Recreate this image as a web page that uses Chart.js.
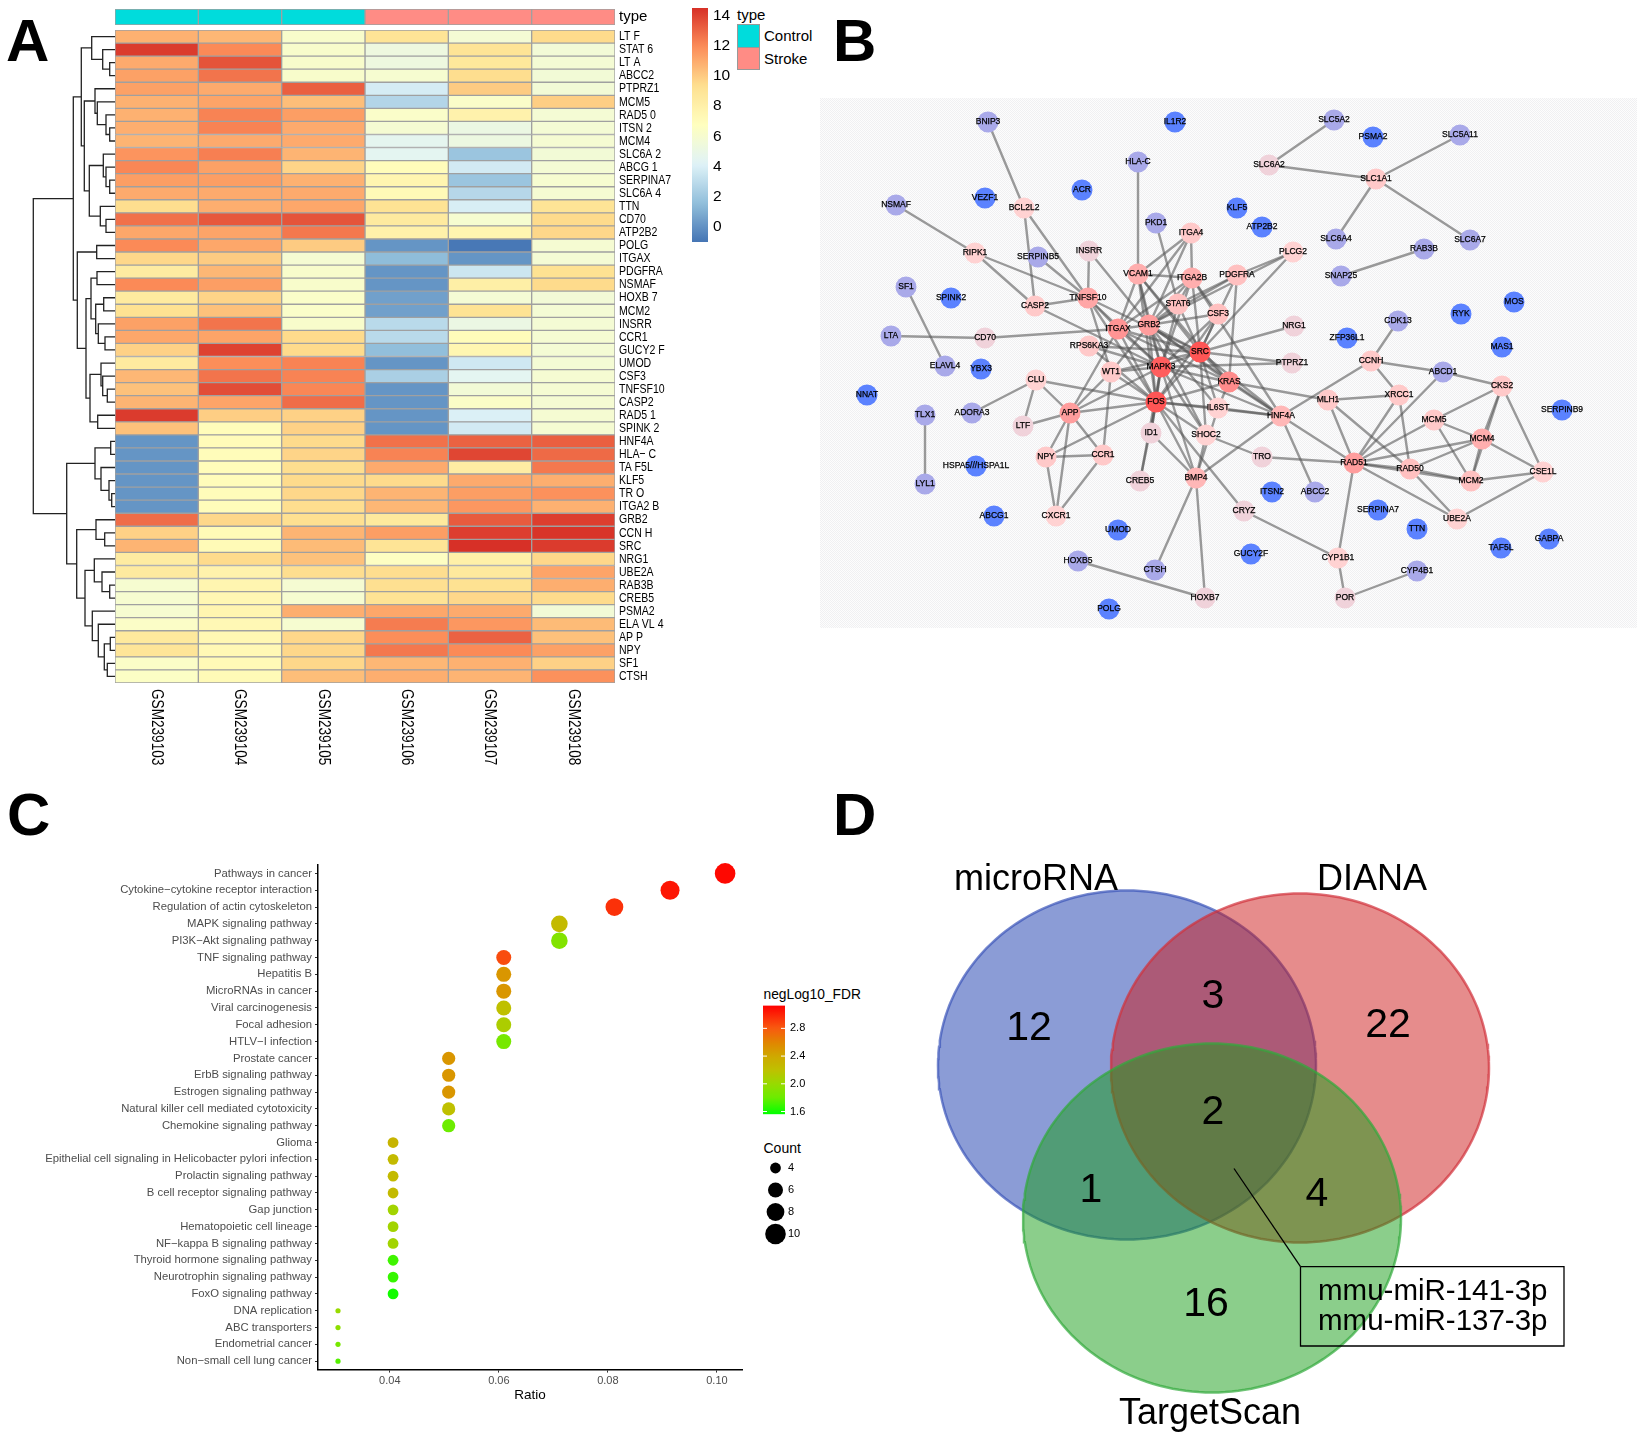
<!DOCTYPE html>
<html>
<head>
<meta charset="utf-8">
<title>Stroke figure</title>
<script src="https://cdn.jsdelivr.net/npm/chart.js@4/dist/chart.umd.js"></script>
<style>
body { margin: 0; background: #fff; width: 1645px; height: 1439px; position: relative; overflow: hidden; font-family: "Liberation Sans", Arial, sans-serif; }
canvas { position: absolute; }
.t { position: absolute; white-space: nowrap; line-height: 1; color: #000; }
.letter { font-weight: bold; font-size: 60px; }
.legend { font-size: 15px; }
.swatch { position: absolute; box-sizing: border-box; border: 1px solid #999; }
</style>
</head>
<body>
<script>
// ---------- panel A data ----------
const sampleNames = ['GSM239103', 'GSM239104', 'GSM239105', 'GSM239106', 'GSM239107', 'GSM239108'];
const sampleTypes = ['Control', 'Control', 'Control', 'Stroke', 'Stroke', 'Stroke'];
const geneLabels = ['LT F', 'STAT 6', 'LT A', 'ABCC2', 'PTPRZ1', 'MCM5', 'RAD5 0', 'ITSN 2', 'MCM4', 'SLC6A 2',
  'ABCG 1', 'SERPINA7', 'SLC6A 4', 'TTN', 'CD70', 'ATP2B2', 'POLG', 'ITGAX', 'PDGFRA', 'NSMAF',
  'HOXB 7', 'MCM2', 'INSRR', 'CCR1', 'GUCY2 F', 'UMOD', 'CSF3', 'TNFSF10', 'CASP2', 'RAD5 1',
  'SPINK 2', 'HNF4A', 'HLA\u2212 C', 'TA F5L', 'KLF5', 'TR O', 'ITGA2 B', 'GRB2', 'CCN H', 'SRC',
  'NRG1', 'UBE2A', 'RAB3B', 'CREB5', 'PSMA2', 'ELA VL 4', 'AP P', 'NPY', 'SF1', 'CTSH'];
const heatValues = [
  [10.8, 10.6, 6.2, 9.0, 5.8, 9.5], [14.2, 12.0, 6.2, 5.3, 9.0, 5.7], [11.0, 13.5, 6.2, 5.3, 8.7, 5.8],
  [11.3, 12.6, 6.2, 6.0, 9.4, 5.7], [11.3, 11.0, 13.2, 3.8, 10.0, 5.7], [10.8, 11.2, 10.4, 2.7, 6.3, 9.9],
  [10.8, 12.2, 11.4, 6.3, 7.8, 5.8], [10.9, 12.2, 11.0, 5.9, 5.1, 5.8], [10.7, 11.0, 11.0, 4.6, 5.2, 5.9],
  [11.7, 12.3, 10.7, 4.5, 1.9, 5.7], [12.1, 11.3, 9.7, 7.0, 3.7, 5.8], [11.4, 11.4, 10.8, 7.6, 1.9, 6.0],
  [11.0, 11.0, 11.0, 7.2, 2.8, 5.9], [9.4, 10.9, 11.1, 9.1, 3.9, 9.0], [12.7, 13.4, 13.5, 8.5, 6.0, 9.5],
  [11.1, 11.2, 12.5, 7.9, 7.6, 9.6], [12.0, 11.1, 10.0, 0.1, -0.9, 5.9], [9.6, 10.0, 5.9, 1.5, 0.1, 5.8],
  [8.4, 10.6, 6.2, 0.1, 3.5, 9.2], [12.0, 11.4, 6.2, 0.1, 8.1, 9.5], [8.5, 9.7, 6.3, 0.5, 5.8, 5.7],
  [9.2, 10.3, 6.3, 0.5, 9.1, 5.8], [11.3, 12.6, 6.2, 2.9, 5.1, 5.8], [11.1, 11.2, 9.5, 2.9, 7.0, 5.9],
  [9.8, 14.0, 9.5, 1.6, 7.5, 5.8], [8.5, 11.9, 12.2, 0.1, 3.6, 5.8], [10.6, 12.6, 12.2, 2.4, 4.5, 5.9],
  [10.3, 13.7, 12.1, 0.1, 5.7, 5.9], [10.7, 11.2, 12.8, 0.1, 6.4, 5.9], [14.2, 9.9, 9.8, 0.1, 4.0, 5.9],
  [10.3, 7.0, 9.8, 0.1, 3.7, 5.9], [0.1, 7.1, 9.5, 12.7, 13.1, 13.2], [0.1, 7.0, 9.7, 12.2, 13.9, 12.9],
  [0.1, 7.0, 9.4, 11.0, 8.3, 12.5], [0.1, 7.0, 9.5, 9.5, 11.0, 10.9], [0.1, 7.0, 9.6, 10.7, 11.4, 11.8],
  [0.1, 7.0, 9.4, 10.6, 11.6, 10.8], [12.8, 9.6, 9.3, 8.6, 13.3, 14.1], [9.8, 7.2, 10.7, 11.4, 14.1, 14.4],
  [10.7, 7.2, 10.5, 9.0, 14.5, 14.2], [8.4, 9.5, 10.3, 6.6, 8.0, 9.6], [8.5, 7.8, 9.4, 9.4, 8.6, 11.2],
  [6.0, 7.6, 5.9, 9.3, 9.2, 10.9], [6.0, 7.4, 6.0, 9.1, 9.6, 9.5], [6.0, 7.6, 10.9, 11.1, 11.0, 5.7],
  [6.4, 7.3, 6.0, 12.4, 11.6, 10.5], [8.6, 7.4, 9.6, 11.9, 13.1, 10.3], [8.9, 7.3, 9.6, 12.5, 12.0, 11.3],
  [6.4, 7.2, 9.6, 10.6, 10.8, 9.8], [6.5, 7.2, 10.4, 10.9, 10.7, 11.8]
];
// merge height, then two children; a plain number is a row index
const dendroTree = [81.7,
  [41.7,
    [33.7,
      [23.3, 0, [12.3, 1, [5.3, 2, 3]]],
      [30.7,
        [20, 4, [17.7, 5, [9, 6, [5.3, 7, 8]]]],
        [25.7,
          [11.7, 9, [9, 10, [5.3, 11, 12]]],
          [14.7, 13, [9, 14, 15]]]]],
    [37.7,
      [18.3, 16, 17],
      [29,
        [24, [18, 18, 19], [19.3, [11.3, 20, 21], [16.7, 22, [10, 23, 24]]]],
        [25, [14, 25, [12.3, 26, [7.7, 27, 28]]], [17.3, 29, 30]]]]],
  [48.3,
    [20, [4.3, 31, 32], [14, 33, [6, 34, [3.3, 35, 36]]]],
    [38.3,
      [19, 37, [10.3, 38, 39]],
      [30,
        [20.7, 40, [13, 41, [5.3, 42, 43]]],
        [22.7, 44, [16.7, 45, [10.7, [4.7, 46, 47], [7.7, 48, 49]]]]]]]
];
const heatTicks = [0, 2, 4, 6, 8, 10, 12, 14];
const typeNames = ['Control', 'Stroke'];

// ---------- panel B data ----------
const nodeNames = ['BNIP3', 'IL1R2', 'SLC5A2', 'PSMA2', 'SLC5A11', 'HLA-C', 'SLC6A2', 'SLC1A1', 'ACR', 'VEZF1',
  'NSMAF', 'BCL2L2', 'KLF5', 'ATP2B2', 'PKD1', 'ITGA4', 'SLC6A4', 'SLC6A7', 'RAB3B', 'INSRR',
  'RIPK1', 'SERPINB5', 'PLCG2', 'VCAM1', 'ITGA2B', 'PDGFRA', 'SNAP25', 'SF1', 'SPINK2', 'TNFSF10',
  'CASP2', 'STAT6', 'CSF3', 'MOS', 'RYK', 'CDK13', 'ITGAX', 'GRB2', 'NRG1', 'LTA',
  'CD70', 'ZFP36L1', 'RPS6KA3', 'MAS1', 'SRC', 'CCNH', 'PTPRZ1', 'ELAVL4', 'YBX3', 'MAPK3',
  'WT1', 'ABCD1', 'CLU', 'KRAS', 'CKS2', 'NNAT', 'MLH1', 'XRCC1', 'FOS', 'TLX1',
  'ADORA3', 'APP', 'IL6ST', 'HNF4A', 'SERPINB9', 'MCM5', 'LTF', 'ID1', 'SHOC2', 'MCM4',
  'NPY', 'CCR1', 'TRO', 'HSPA5///HSPA1L', 'RAD51', 'RAD50', 'CSE1L', 'MCM2', 'LYL1', 'CREB5',
  'BMP4', 'ITSN2', 'ABCC2', 'ABCG1', 'CXCR1', 'CRYZ', 'SERPINA7', 'UBE2A', 'TTN', 'UMOD',
  'GABPA', 'TAF5L', 'HOXB5', 'CTSH', 'GUCY2F', 'CYP1B1', 'CYP4B1', 'HOXB7', 'POR', 'POLG'];
const nodeX = [988, 1175, 1334, 1373, 1460, 1138, 1269, 1376, 1082, 985,
  896, 1024, 1237, 1262, 1156, 1191, 1336, 1470, 1424, 1089,
  975, 1038, 1293, 1138, 1192, 1237, 1341, 906, 951, 1088,
  1035, 1178, 1218, 1514, 1461, 1398, 1118, 1149, 1294, 891,
  985, 1347, 1089, 1502, 1200, 1371, 1292, 945, 981, 1161,
  1111, 1443, 1036, 1229, 1502, 867, 1328, 1399, 1156, 925,
  972, 1070, 1218, 1281, 1562, 1434, 1023, 1151, 1206, 1482,
  1046, 1103, 1262, 976, 1354, 1410, 1543, 1471, 925, 1140,
  1196, 1272, 1315, 994, 1056, 1244, 1378, 1457, 1417, 1118,
  1549, 1501, 1078, 1155, 1251, 1338, 1417, 1205, 1345, 1109];
const nodeY = [122, 122, 120, 137, 135, 162, 165, 179, 190, 198,
  205, 208, 208, 227, 223, 233, 239, 240, 249, 251,
  253, 257, 252, 274, 278, 275, 276, 287, 298, 298,
  306, 304, 314, 302, 314, 321, 329, 325, 326, 336,
  338, 338, 346, 347, 352, 361, 363, 366, 369, 367,
  372, 372, 380, 382, 386, 395, 400, 395, 402, 415,
  413, 413, 408, 416, 410, 420, 426, 433, 435, 439,
  457, 455, 457, 466, 463, 469, 472, 481, 484, 481,
  478, 492, 492, 516, 516, 511, 510, 519, 529, 530,
  539, 548, 561, 570, 554, 558, 571, 598, 598, 609];
const networkEdges = [
  ['BNIP3', 'BCL2L2'], ['SLC5A2', 'SLC6A2'], ['SLC6A2', 'SLC1A1'], ['SLC5A11', 'SLC1A1'], ['SLC1A1', 'SLC6A4'], ['SLC1A1', 'SLC6A7'],
  ['RAB3B', 'SNAP25'], ['HLA-C', 'VCAM1'], ['NSMAF', 'RIPK1'], ['BCL2L2', 'CASP2'], ['BCL2L2', 'TNFSF10'], ['RIPK1', 'TNFSF10'],
  ['RIPK1', 'CASP2'], ['SERPINB5', 'TNFSF10'], ['INSRR', 'TNFSF10'], ['INSRR', 'GRB2'], ['PKD1', 'STAT6'], ['ITGA4', 'VCAM1'],
  ['ITGA4', 'ITGA2B'], ['ITGA4', 'ITGAX'], ['ITGA4', 'GRB2'], ['PLCG2', 'PDGFRA'], ['PLCG2', 'SRC'], ['PLCG2', 'GRB2'],
  ['PDGFRA', 'SRC'], ['PDGFRA', 'GRB2'], ['PDGFRA', 'KRAS'], ['PDGFRA', 'STAT6'], ['SF1', 'ELAVL4'], ['LTA', 'CD70'],
  ['CD70', 'ITGAX'], ['CASP2', 'TNFSF10'], ['CASP2', 'MAPK3'], ['TNFSF10', 'MAPK3'], ['TNFSF10', 'FOS'], ['TNFSF10', 'SRC'],
  ['TNFSF10', 'ITGAX'], ['TNFSF10', 'WT1'], ['VCAM1', 'ITGA2B'], ['VCAM1', 'ITGAX'], ['VCAM1', 'GRB2'], ['VCAM1', 'SRC'],
  ['VCAM1', 'MAPK3'], ['VCAM1', 'FOS'], ['VCAM1', 'KRAS'], ['ITGA2B', 'ITGAX'], ['ITGA2B', 'GRB2'], ['ITGA2B', 'SRC'],
  ['ITGA2B', 'MAPK3'], ['ITGA2B', 'CSF3'], ['ITGA2B', 'STAT6'], ['ITGA2B', 'HNF4A'], ['STAT6', 'GRB2'], ['STAT6', 'SRC'],
  ['STAT6', 'MAPK3'], ['CSF3', 'GRB2'], ['CSF3', 'SRC'], ['CSF3', 'MAPK3'], ['CSF3', 'FOS'], ['ITGAX', 'GRB2'],
  ['ITGAX', 'SRC'], ['ITGAX', 'MAPK3'], ['ITGAX', 'FOS'], ['ITGAX', 'KRAS'], ['ITGAX', 'APP'], ['GRB2', 'SRC'],
  ['GRB2', 'MAPK3'], ['GRB2', 'KRAS'], ['GRB2', 'FOS'], ['GRB2', 'WT1'], ['GRB2', 'HNF4A'], ['GRB2', 'IL6ST'],
  ['GRB2', 'SHOC2'], ['SRC', 'MAPK3'], ['SRC', 'KRAS'], ['SRC', 'FOS'], ['SRC', 'NRG1'], ['SRC', 'PTPRZ1'],
  ['SRC', 'HNF4A'], ['SRC', 'RPS6KA3'], ['SRC', 'IL6ST'], ['SRC', 'WT1'], ['SRC', 'SHOC2'], ['MAPK3', 'FOS'],
  ['MAPK3', 'RPS6KA3'], ['MAPK3', 'KRAS'], ['MAPK3', 'WT1'], ['MAPK3', 'APP'], ['MAPK3', 'HNF4A'], ['MAPK3', 'PTPRZ1'],
  ['MAPK3', 'BMP4'], ['MAPK3', 'ID1'], ['MAPK3', 'CREB5'], ['MAPK3', 'SHOC2'], ['FOS', 'APP'], ['FOS', 'WT1'],
  ['FOS', 'KRAS'], ['FOS', 'CLU'], ['FOS', 'NPY'], ['FOS', 'ID1'], ['FOS', 'CREB5'], ['FOS', 'BMP4'],
  ['FOS', 'SHOC2'], ['FOS', 'IL6ST'], ['FOS', 'HNF4A'], ['FOS', 'CRYZ'], ['KRAS', 'HNF4A'], ['KRAS', 'MLH1'],
  ['KRAS', 'IL6ST'], ['RPS6KA3', 'FOS'], ['WT1', 'CCR1'], ['WT1', 'APP'], ['CLU', 'ADORA3'], ['CLU', 'LTF'],
  ['CLU', 'APP'], ['APP', 'LTF'], ['APP', 'NPY'], ['APP', 'CCR1'], ['APP', 'CXCR1'], ['NPY', 'CCR1'],
  ['NPY', 'CXCR1'], ['CCR1', 'CXCR1'], ['ID1', 'BMP4'], ['IL6ST', 'BMP4'], ['SHOC2', 'TRO'], ['SHOC2', 'BMP4'],
  ['HNF4A', 'BMP4'], ['HNF4A', 'ABCC2'], ['HNF4A', 'RAD51'], ['HNF4A', 'IL6ST'], ['HNF4A', 'CCNH'], ['CCNH', 'CDK13'],
  ['CCNH', 'ABCD1'], ['CCNH', 'XRCC1'], ['ABCD1', 'CKS2'], ['ABCD1', 'RAD51'], ['MLH1', 'XRCC1'], ['MLH1', 'RAD51'],
  ['MLH1', 'RAD50'], ['XRCC1', 'RAD51'], ['XRCC1', 'RAD50'], ['CKS2', 'MCM5'], ['CKS2', 'MCM4'], ['CKS2', 'MCM2'],
  ['CKS2', 'CSE1L'], ['MCM5', 'MCM4'], ['MCM5', 'MCM2'], ['MCM5', 'RAD51'], ['MCM4', 'MCM2'], ['MCM4', 'RAD51'],
  ['MCM4', 'RAD50'], ['MCM4', 'CSE1L'], ['RAD51', 'RAD50'], ['RAD51', 'MCM2'], ['RAD51', 'UBE2A'], ['RAD51', 'CYP1B1'],
  ['RAD51', 'TRO'], ['RAD50', 'MCM2'], ['RAD50', 'UBE2A'], ['MCM2', 'CSE1L'], ['CSE1L', 'UBE2A'], ['TLX1', 'LYL1'],
  ['BMP4', 'CTSH'], ['BMP4', 'HOXB7'], ['CRYZ', 'CYP1B1'], ['HOXB5', 'HOXB7'], ['CYP1B1', 'POR'], ['POR', 'CYP4B1']
];
const nodeShade = { FOS: 17, MAPK3: 16, SRC: 17, KRAS: 11, GRB2: 9, ITGAX: 10, TNFSF10: 8, ITGA2B: 7, VCAM1: 7, STAT6: 5, CSF3: 5,
  HNF4A: 6, APP: 9, WT1: 4, IL6ST: 3, SHOC2: 3, RPS6KA3: 4, ID1: 2, NRG1: 2, PTPRZ1: 2, TRO: 2, CCR1: 4, RAD51: 9, ABCD1: 1,
  MCM4: 7, RAD50: 5, MCM5: 4, MCM2: 5, CKS2: 4, CSE1L: 3, BMP4: 6, CD70: 2, CLU: 3 };

// ---------- panel C data ----------
const pathways = ['Pathways in cancer', 'Cytokine\u2212cytokine receptor interaction', 'Regulation of actin cytoskeleton',
  'MAPK signaling pathway', 'PI3K\u2212Akt signaling pathway', 'TNF signaling pathway', 'Hepatitis B', 'MicroRNAs in cancer',
  'Viral carcinogenesis', 'Focal adhesion', 'HTLV\u2212I infection', 'Prostate cancer', 'ErbB signaling pathway',
  'Estrogen signaling pathway', 'Natural killer cell mediated cytotoxicity', 'Chemokine signaling pathway', 'Glioma',
  'Epithelial cell signaling in Helicobacter pylori infection', 'Prolactin signaling pathway', 'B cell receptor signaling pathway',
  'Gap junction', 'Hematopoietic cell lineage', 'NF\u2212kappa B signaling pathway', 'Thyroid hormone signaling pathway',
  'Neurotrophin signaling pathway', 'FoxO signaling pathway', 'DNA replication', 'ABC transporters', 'Endometrial cancer',
  'Non\u2212small cell lung cancer'];
const pathwayRatio = [0.1015, 0.0914, 0.0812, 0.0711, 0.0711, 0.0609, 0.0609, 0.0609, 0.0609, 0.0609, 0.0609,
  0.0508, 0.0508, 0.0508, 0.0508, 0.0508, 0.0406, 0.0406, 0.0406, 0.0406, 0.0406, 0.0406, 0.0406, 0.0406, 0.0406, 0.0406,
  0.0305, 0.0305, 0.0305, 0.0305];
const pathwayCount = [10, 9, 8, 7, 7, 6, 6, 6, 6, 6, 6, 5, 5, 5, 5, 5, 4, 4, 4, 4, 4, 4, 4, 4, 4, 4, 3, 3, 3, 3];
const pathwayFdr = [3.1, 3.05, 2.95, 2.25, 1.9, 2.85, 2.5, 2.5, 2.2, 2.1, 1.85, 2.5, 2.5, 2.5, 2.2, 1.8,
  2.3, 2.25, 2.25, 2.25, 2.05, 2.05, 2.05, 1.7, 1.68, 1.6, 2.0, 1.95, 1.85, 1.75];
const ratioTicks = [0.04, 0.06, 0.08, 0.10];
const fdrTicks = [1.6, 2.0, 2.4, 2.8];
const countLegend = [4, 6, 8, 10];

// ---------- panel D data ----------
const vennSets = ['microRNA', 'DIANA', 'TargetScan'];
const vennCx = [1127, 1300, 1212];
const vennCy = [1065, 1068, 1218];
const vennRx = [189, 189, 189];
const vennRy = [174.5, 174.5, 174.5];
const vennSetLabelX = [1036, 1372, 1210];
const vennSetLabelY = [880, 880, 1414];
const vennCounts = ['12', '3', '22', '2', '1', '4', '16'];
const vennCountX = [1029, 1213, 1388, 1213, 1091, 1317, 1206];
const vennCountY = [1029, 997, 1026, 1113, 1191, 1195, 1305];
const overlapMirnas = ['mmu-miR-141-3p', 'mmu-miR-137-3p'];

// ---------- helpers ----------
const SANS = '"Liberation Sans", Arial, sans-serif';
Chart.defaults.layout.autoPadding = false;

function addCanvas(left, top, width, height) {
  const c = document.createElement('canvas');
  c.width = width;
  c.height = height;
  c.style.left = left + 'px';
  c.style.top = top + 'px';
  document.body.appendChild(c);
  return c;
}

function addText(text, left, top, cls) {
  const d = document.createElement('div');
  d.className = 't ' + (cls || '');
  d.textContent = text;
  d.style.left = left + 'px';
  d.style.top = top + 'px';
  document.body.appendChild(d);
  return d;
}

// fixed axis width; tick labels must not eat into the plot area
function fixWidth(w) {
  return s => { s.width = w; s.paddingTop = 0; s.paddingBottom = 0; };
}

const baseOptions = {
  responsive: false,
  animation: false,
  plugins: { legend: { display: false }, tooltip: { enabled: false } }
};

function hexToRgb(h) {
  return [parseInt(h.slice(1, 3), 16), parseInt(h.slice(3, 5), 16), parseInt(h.slice(5, 7), 16)];
}

function rampColor(stops, v) {
  if (v <= stops[0][0]) return stops[0][1];
  for (let i = 1; i < stops.length; i++) {
    if (v <= stops[i][0]) {
      const t = (v - stops[i - 1][0]) / (stops[i][0] - stops[i - 1][0]);
      const a = hexToRgb(stops[i - 1][1]);
      const b = hexToRgb(stops[i][1]);
      return 'rgb(' + a.map((c, k) => Math.round(c + (b[k] - c) * t)).join(',') + ')';
    }
  }
  return stops[stops.length - 1][1];
}

const heatStops = [[-1, '#4575b4'], [1.58, '#91bfdb'], [4.17, '#e0f3f8'], [6.75, '#ffffbf'], [9.33, '#fee090'], [11.92, '#fc8d59'], [14.5, '#d73027']];
const fdrStops = [[1.56, '#00ff00'], [1.8, '#6cec00'], [2.0, '#98da00'], [2.2, '#bfc000'], [2.4, '#cfa800'], [2.6, '#e28400'], [2.8, '#f85a10'], [3.13, '#ff0000']];
const typeColors = { Control: '#00dcdc', Stroke: '#ff8c85' };
const countRadius = { 3: 2.6, 4: 5.4, 5: 6.6, 6: 7.5, 7: 8.3, 8: 8.9, 9: 9.5, 10: 10.3 };

function colorBar(canvas, padTop, padBottom, barWidth, min, max, ticks, stops, font, markTicks) {
  return new Chart(canvas, {
    type: 'bar',
    data: {
      labels: [''],
      datasets: [{
        data: [[min, max]],
        borderSkipped: false,
        barPercentage: 1,
        categoryPercentage: 1,
        backgroundColor: ctx => {
          const area = ctx.chart.chartArea;
          const y = ctx.chart.scales.y;
          if (!area) return '#fff';
          const g = ctx.chart.ctx.createLinearGradient(0, y.getPixelForValue(min), 0, y.getPixelForValue(max));
          for (let i = 0; i <= 40; i++) g.addColorStop(i / 40, rampColor(stops, min + (max - min) * i / 40));
          return g;
        }
      }]
    },
    options: {
      ...baseOptions,
      layout: { padding: { top: padTop, bottom: padBottom } },
      scales: {
        x: { display: false },
        y: {
          position: 'right', min: min, max: max,
          afterFit: fixWidth(canvas.width - barWidth),
          afterBuildTicks: s => { s.ticks = ticks.map(v => ({ value: v })); },
          grid: { display: false, drawTicks: false }, border: { display: false },
          ticks: { font: font, color: '#000', padding: 5, callback: v => (markTicks ? v.toFixed(1) : v) }
        }
      }
    },
    plugins: [{
      id: 'barTicks',
      afterDatasetsDraw(chart) {
        if (!markTicks) return;
        const c = chart.ctx;
        const a = chart.chartArea;
        c.strokeStyle = '#fff';
        chart.scales.y.ticks.forEach(t => {
          const py = chart.scales.y.getPixelForValue(t.value);
          c.beginPath(); c.moveTo(a.left, py); c.lineTo(a.left + 4, py); c.moveTo(a.right - 4, py); c.lineTo(a.right, py); c.stroke();
        });
      }
    }]
  });
}

// ---------- panel A ----------
const dendroPoints = [];
let dendroWalk = node => {
  if (typeof node === 'number') return { h: 0, y: node };
  const a = dendroWalk(node[1]);
  const b = dendroWalk(node[2]);
  dendroPoints.push({ x: a.h, y: a.y }, { x: node[0], y: a.y }, { x: node[0], y: b.y }, { x: b.h, y: b.y }, { x: NaN, y: NaN });
  return { h: node[0], y: (a.y + b.y) / 2 };
};
dendroWalk(dendroTree);

new Chart(addCanvas(30, 30, 85, 653), {
  type: 'scatter',
  data: { datasets: [{ data: dendroPoints, showLine: true, pointRadius: 0, borderColor: '#222', borderWidth: 1.3, clip: false }] },
  options: {
    ...baseOptions,
    scales: {
      x: { display: false, type: 'linear', min: 0, max: 85, reverse: true },
      y: { display: false, type: 'linear', min: -0.5, max: 49.5, reverse: true }
    }
  }
});

const heatDatasets = sampleNames.map((name, col) => ({
  label: name,
  data: heatValues.map(() => 1),
  backgroundColor: heatValues.map(row => rampColor(heatStops, row[col])),
  borderColor: '#a0a0a0',
  borderWidth: 1,
  borderSkipped: false,
  barPercentage: 1,
  categoryPercentage: 1
}));

new Chart(addCanvas(114, 29, 570, 760), {
  type: 'bar',
  data: { labels: geneLabels, datasets: heatDatasets },
  options: {
    ...baseOptions,
    indexAxis: 'y',
    layout: { padding: { left: 1, top: 1, bottom: 106 } },
    scales: {
      x: { display: false, stacked: true, min: 0, max: sampleNames.length },
      y: {
        stacked: true, position: 'right',
        afterFit: fixWidth(69),
        grid: { display: false, drawTicks: false }, border: { display: false },
        ticks: { display: false, autoSkip: false }
      }
    }
  },
  plugins: [{
    id: 'heatLabels',
    afterDraw(chart) {
      const c = chart.ctx;
      const area = chart.chartArea;
      c.save();
      c.fillStyle = '#000';
      c.textBaseline = 'middle';
      // both label sets are condensed in the figure, so squeeze them along the text
      c.font = '17px ' + SANS;
      sampleNames.forEach((s, i) => {
        c.save();
        c.translate(chart.scales.x.getPixelForValue(i + 0.5), area.bottom + 6);
        c.rotate(Math.PI / 2);
        c.scale(0.8, 1);
        c.fillText(s, 0, 0);
        c.restore();
      });
      c.font = '13.5px ' + SANS;
      geneLabels.forEach((s, i) => {
        c.save();
        c.translate(area.right + 4, chart.scales.y.getPixelForValue(i));
        c.scale(0.78, 1);
        c.fillText(s, 0, 0);
        c.restore();
      });
      c.restore();
    }
  }]
});

new Chart(addCanvas(114, 8, 570, 18), {
  type: 'bar',
  data: {
    labels: ['type'],
    datasets: sampleTypes.map(t => ({
      data: [1], backgroundColor: typeColors[t], borderColor: '#a0a0a0', borderWidth: 1,
      borderSkipped: false, barPercentage: 1, categoryPercentage: 1
    }))
  },
  options: {
    ...baseOptions,
    indexAxis: 'y',
    layout: { padding: { left: 1, top: 1, bottom: 1 } },
    scales: {
      x: { display: false, stacked: true, min: 0, max: sampleTypes.length },
      y: {
        stacked: true, position: 'right',
        afterFit: fixWidth(69),
        grid: { display: false, drawTicks: false }, border: { display: false },
        ticks: { font: { family: SANS, size: 15 }, color: '#000', padding: 4 }
      }
    }
  }
});

colorBar(addCanvas(692, 0, 44, 260), 8, 18, 16, -1, 14.51, heatTicks, heatStops, { family: SANS, size: 15.5 }, false);

addText('type', 737, 7, 'legend');
typeNames.forEach((t, i) => {
  const s = document.createElement('div');
  s.className = 'swatch';
  s.style.left = '737px';
  s.style.top = (24 + i * 22.6) + 'px';
  s.style.width = '23px';
  s.style.height = '23.6px';
  s.style.background = typeColors[t];
  document.body.appendChild(s);
  addText(t, 764, 28 + i * 22.6, 'legend');
});

// ---------- panel B ----------
const nodeDegree = {};
nodeNames.forEach(n => { nodeDegree[n] = 0; });
networkEdges.forEach(e => { nodeDegree[e[0]]++; nodeDegree[e[1]]++; });

function nodeColor(name) {
  const d = nodeShade[name] !== undefined ? nodeShade[name] : nodeDegree[name];
  if (d === 0) return '#5b82ff';
  if (d === 1) return '#a9a9e9';
  if (d === 2) return '#f0d2da';
  const g = Math.max(85, Math.round(210 - (d - 3) * 8.9));
  return 'rgb(255,' + g + ',' + g + ')';
}

const edgeDatasets = networkEdges.map(e => {
  const a = nodeNames.indexOf(e[0]);
  const b = nodeNames.indexOf(e[1]);
  return {
    type: 'line',
    data: [{ x: nodeX[a], y: nodeY[a] }, { x: nodeX[b], y: nodeY[b] }],
    borderColor: 'rgba(85,85,85,0.58)',
    borderWidth: 2.4,
    pointRadius: 0,
    order: 2
  };
});

const stipple = document.createElement('canvas');
stipple.width = stipple.height = 2;
const stippleCtx = stipple.getContext('2d');
stippleCtx.fillStyle = '#fdfdfd';
stippleCtx.fillRect(0, 0, 2, 2);
stippleCtx.fillStyle = '#f0f0f2';
stippleCtx.fillRect(0, 0, 1, 1);
stippleCtx.fillRect(1, 1, 1, 1);

new Chart(addCanvas(820, 98, 817, 530), {
  type: 'bubble',
  data: {
    datasets: [{
      data: nodeNames.map((n, i) => ({ x: nodeX[i], y: nodeY[i], r: 10.5 })),
      backgroundColor: nodeNames.map(nodeColor),
      borderWidth: 0,
      order: 1
    }, ...edgeDatasets]
  },
  options: {
    ...baseOptions,
    scales: {
      x: { display: false, type: 'linear', min: 820, max: 1637 },
      y: { display: false, type: 'linear', min: 98, max: 628, reverse: true }
    }
  },
  plugins: [{
    id: 'networkPaint',
    beforeDraw(chart) {
      const c = chart.ctx;
      c.save();
      c.fillStyle = c.createPattern(stipple, 'repeat');
      c.fillRect(0, 0, chart.width, chart.height);
      c.restore();
    },
    afterDraw(chart) {
      const c = chart.ctx;
      c.save();
      c.font = '8.5px ' + SANS;
      c.fillStyle = '#000';
      c.strokeStyle = '#000';
      c.lineWidth = 0.25;
      c.textAlign = 'center';
      c.textBaseline = 'middle';
      nodeNames.forEach((n, i) => {
        const px = chart.scales.x.getPixelForValue(nodeX[i]);
        const py = chart.scales.y.getPixelForValue(nodeY[i]);
        c.fillText(n, px, py);
        c.strokeText(n, px, py);
      });
      c.restore();
    }
  }]
});

// ---------- panel C ----------
new Chart(addCanvas(0, 860, 745, 545), {
  type: 'bubble',
  data: {
    datasets: [{
      data: pathways.map((p, i) => ({ x: pathwayRatio[i], y: i, r: countRadius[pathwayCount[i]] })),
      backgroundColor: pathwayFdr.map(v => rampColor(fdrStops, v)),
      borderWidth: 0
    }]
  },
  options: {
    ...baseOptions,
    layout: { padding: { top: 5, right: 3 } },
    scales: {
      x: {
        type: 'linear', min: 0.02683, max: 0.1046,
        afterFit: s => { s.height = 35.4; s.paddingLeft = 0; s.paddingRight = 0; },
        afterBuildTicks: s => { s.ticks = ratioTicks.map(v => ({ value: v })); },
        grid: { display: true, drawOnChartArea: false, drawTicks: true, tickLength: 3, tickColor: '#333' },
        border: { color: '#000', width: 1.5 },
        ticks: { font: { family: SANS, size: 11 }, color: '#4d4d4d', padding: 2, callback: v => v.toFixed(2) },
        title: { display: true, text: 'Ratio', color: '#000', font: { family: SANS, size: 13.5 }, padding: { top: 2, bottom: 2 } }
      },
      y: {
        type: 'category', labels: pathways, offset: true,
        afterFit: fixWidth(318),
        grid: { display: true, drawOnChartArea: false, drawTicks: true, tickLength: 3, tickColor: '#333' },
        border: { color: '#000', width: 1.5 },
        ticks: { autoSkip: false, font: { family: SANS, size: 11.3 }, color: '#4d4d4d', padding: 3 }
      }
    }
  }
});

addText('negLog10_FDR', 763.5, 988, '').style.fontSize = '13.8px';
colorBar(addCanvas(763, 1000, 50, 120), 5.5, 5.7, 22, 1.56, 3.13, fdrTicks, fdrStops, { family: SANS, size: 11 }, true);
addText('Count', 763.5, 1141, '').style.fontSize = '14px';

new Chart(addCanvas(764, 1157, 46, 88), {
  type: 'bubble',
  data: {
    datasets: [{
      data: countLegend.map((v, i) => ({ x: 0, y: i, r: countRadius[v] })),
      backgroundColor: '#000',
      borderWidth: 0,
      clip: false
    }]
  },
  options: {
    ...baseOptions,
    scales: {
      x: { display: false, type: 'linear', min: -1, max: 1 },
      y: {
        type: 'category', labels: countLegend.map(String), offset: true, position: 'right',
        afterFit: fixWidth(23),
        grid: { display: false, drawTicks: false }, border: { display: false },
        ticks: { font: { family: SANS, size: 11 }, color: '#000', padding: 1 }
      }
    }
  }
});

// ---------- panel D ----------
function ellipsePoints(i) {
  const pts = [];
  for (let k = 0; k <= 180; k++) {
    const t = k / 180 * 2 * Math.PI;
    pts.push({ x: vennCx[i] + vennRx[i] * Math.cos(t), y: vennCy[i] + vennRy[i] * Math.sin(t) });
  }
  return pts;
}
const vennFill = ['rgba(23,57,173,0.5)', 'rgba(205,25,25,0.5)', 'rgba(23,157,23,0.5)'];
const vennEdge = ['rgba(60,85,185,0.7)', 'rgba(210,50,60,0.7)', 'rgba(50,170,60,0.7)'];
const leaderLine = [{ x: 1234, y: 1168.5 }, { x: 1300.5, y: 1266.7 }];
const boxOutline = [{ x: 1300.5, y: 1266.7 }, { x: 1564, y: 1266.7 }, { x: 1564, y: 1346 }, { x: 1300.5, y: 1346 }, { x: 1300.5, y: 1266.7 }];

new Chart(addCanvas(880, 850, 765, 589), {
  type: 'scatter',
  data: {
    datasets: [
      { data: boxOutline, showLine: true, pointRadius: 0, borderColor: '#000', borderWidth: 1.3, order: 0 },
      { data: leaderLine, showLine: true, pointRadius: 0, borderColor: '#000', borderWidth: 1.3, order: 0 },
      ...[2, 1, 0].map(i => ({
        data: ellipsePoints(i), showLine: true, pointRadius: 0, fill: 'shape', tension: 0,
        backgroundColor: vennFill[i], borderColor: vennEdge[i], borderWidth: 2.5, order: 3 - i
      }))
    ]
  },
  options: {
    ...baseOptions,
    scales: {
      x: { display: false, type: 'linear', min: 880, max: 1645 },
      y: { display: false, type: 'linear', min: 850, max: 1439, reverse: true }
    }
  },
  plugins: [{
    id: 'vennText',
    afterDraw(chart) {
      const c = chart.ctx;
      const px = chart.scales.x;
      const py = chart.scales.y;
      c.save();
      c.fillStyle = '#000';
      c.textBaseline = 'middle';
      c.textAlign = 'center';
      c.font = '36px ' + SANS;
      vennSets.forEach((s, i) => c.fillText(s, px.getPixelForValue(vennSetLabelX[i]), py.getPixelForValue(vennSetLabelY[i])));
      c.font = '41px ' + SANS;
      vennCounts.forEach((s, i) => c.fillText(s, px.getPixelForValue(vennCountX[i]), py.getPixelForValue(vennCountY[i])));
      c.textAlign = 'left';
      c.font = '29.5px ' + SANS;
      overlapMirnas.forEach((s, i) => c.fillText(s, px.getPixelForValue(1318), py.getPixelForValue(1292 + i * 30)));
      c.restore();
    }
  }]
});

// ---------- panel letters ----------
addText('A', 6, 11, 'letter');
addText('B', 833, 11, 'letter');
addText('C', 7, 785, 'letter');
addText('D', 833, 785, 'letter');
</script>
</body>
</html>
